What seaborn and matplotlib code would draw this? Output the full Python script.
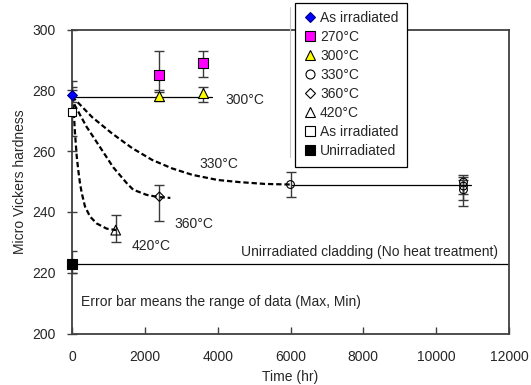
import matplotlib
matplotlib.use("Agg")
import matplotlib.pyplot as plt
import seaborn as sns
import numpy as np
from matplotlib.lines import Line2D

# ---------------- data ----------------
# As irradiated (blue diamond)
t_asirr = [0]
hv_asirr = [278.5]
max_asirr = [281]
min_asirr = [276]

# As irradiated (open square)
t_asirr2 = [0]
hv_asirr2 = [273]
max_asirr2 = [283]
min_asirr2 = [265]

# Unirradiated (black square)
t_unirr = [0]
hv_unirr = [223]
max_unirr = [227]
min_unirr = [220]

# 270 C
t_270 = [2400, 3600]
hv_270 = [285, 289]
max_270 = [293, 293]
min_270 = [280, 284.5]

# 300 C
t_300 = [2400, 3600]
hv_300 = [278, 279]
max_300 = [279.5, 281]
min_300 = [276.5, 276]

# 330 C
t_330 = [6000, 10750, 10750, 10750]
hv_330 = [249, 249.8, 248.5, 247.3]
max_330 = [253, 252, 251.4, 250.5]
min_330 = [245, 246, 243.8, 242]

# 360 C
t_360 = [2400]
hv_360 = [245]
max_360 = [249]
min_360 = [237]

# 420 C
t_420 = [1200]
hv_420 = [234]
max_420 = [239]
min_420 = [230]

# Solid reference lines
line300_t = [0, 3850]
line300_hv = [277.7, 277.7]
line330_t = [6000, 10950]
line330_hv = [249, 249]
lineun_t = [0, 12000]
lineun_hv = [223, 223]

# Dashed trend curves
curve330_t = [0, 550, 1100, 1650, 2200, 2750, 3300, 4000, 4600, 5300, 6000]
curve330_hv = [278, 271.2, 265.8, 261, 257.1, 254.3, 252.2, 250.5, 249.8, 249.2, 249]
curve360_t = [0, 80, 400, 770, 1130, 1500, 1680, 2050, 2360, 2700]
curve360_hv = [278, 275, 268, 261.3, 254.7, 249.5, 247.3, 245.6, 244.9, 244.6]
curve420_t = [0, 36, 82, 128, 173, 219, 266, 356, 493, 677, 951, 1225, 1300]
curve420_hv = [278, 275.5, 266, 258.5, 253.6, 249.5, 246.3, 241.8, 238.5, 236.2, 234.5, 234, 234]

# Axis ticks
xticks = [0, 2000, 4000, 6000, 8000, 10000, 12000]
yticks = [200, 220, 240, 260, 280, 300]

# ---------------- style ----------------
sns.set_style("ticks")
plt.rcParams['font.family'] = ['Liberation Sans', 'DejaVu Sans']

fig = plt.figure(figsize=(5.31, 3.85), dpi=100)
ax = fig.add_axes([72 / 531, 1 - 333.5 / 385, (509 - 72) / 531, (333.5 - 29.5) / 385])

ecol = '#3a3a3a'

def ebar(t, hv, mx, mn):
    hv = np.asarray(hv, float)
    yerr = [hv - np.asarray(mn, float), np.asarray(mx, float) - hv]
    ax.errorbar(t, hv, yerr=yerr, fmt='none', ecolor=ecol, elinewidth=1.0,
                capsize=3.3, capthick=1.0, zorder=3)

# lines
for tt, hh in [(line300_t, line300_hv), (line330_t, line330_hv), (lineun_t, lineun_hv)]:
    sns.lineplot(x=tt, y=hh, ax=ax, color='black', lw=0.9, estimator=None, sort=False, zorder=2)
for tt, hh in [(curve330_t, curve330_hv), (curve360_t, curve360_hv), (curve420_t, curve420_hv)]:
    sns.lineplot(x=tt, y=hh, ax=ax, color='black', lw=1.6, linestyle=(0, (2.4, 1.3)),
                 estimator=None, sort=False, zorder=2)

# error bars
ebar(t_asirr2, hv_asirr2, max_asirr2, min_asirr2)
ebar(t_asirr, hv_asirr, max_asirr, min_asirr)
ebar(t_unirr, hv_unirr, max_unirr, min_unirr)
ebar(t_270, hv_270, max_270, min_270)
ebar(t_300, hv_300, max_300, min_300)
ebar(t_330, hv_330, max_330, min_330)
ebar(t_360, hv_360, max_360, min_360)
ebar(t_420, hv_420, max_420, min_420)

# markers
def pts(t, hv, marker, ms, fc, ec='black', lw=0.8):
    sns.scatterplot(x=t, y=hv, ax=ax, marker=marker, s=ms ** 2, color=fc,
                    edgecolor=ec, linewidth=lw, zorder=5, legend=False, clip_on=False)

pts(t_asirr2, hv_asirr2, 's', 5.5, 'white')
pts(t_270, hv_270, 's', 6.6, '#FF00FF')
pts(t_300, hv_300, '^', 7.2, '#FFFF00')
pts(t_330, hv_330, 'o', 5.6, 'none')
pts(t_360, hv_360, 'D', 4.8, 'none')
pts(t_420, hv_420, '^', 7.0, 'none')
pts(t_unirr, hv_unirr, 's', 6.6, 'black')
pts(t_asirr, hv_asirr, 'D', 5.0, '#0000FF', ec='#000080')

# annotations
fs = 10
ax.text(4210, 276.9, '300°C', fontsize=fs, va='center', ha='left')
ax.text(3500, 255.8, '330°C', fontsize=fs, va='center', ha='left')
ax.text(2820, 236.1, '360°C', fontsize=fs, va='center', ha='left')
ax.text(1630, 228.7, '420°C', fontsize=fs, va='center', ha='left')
ax.text(4650, 226.7, 'Unirradiated cladding (No heat treatment)', fontsize=fs, va='center', ha='left')
ax.text(240, 210.3, 'Error bar means the range of data (Max, Min)', fontsize=fs, va='center', ha='left')

# axes
ax.set_xlim(0, 12000)
ax.set_ylim(200, 300)
ax.set_xticks(xticks)
ax.set_yticks(yticks)
ax.tick_params(axis='x', direction='in', length=5, width=1, pad=12, labelsize=fs, color='#404040')
ax.tick_params(axis='y', direction='inout', length=7, width=1, pad=8, labelsize=fs, color='#404040')
ax.set_xlabel('Time (hr)', fontsize=fs, labelpad=4.5)
ax.set_ylabel('Micro Vickers hardness', fontsize=fs, labelpad=4)
for s in ax.spines.values():
    s.set_color('#404040')
    s.set_linewidth(1.3)

# legend
handles = [
    Line2D([], [], ls='none', marker='D', ms=5.3, mfc='#0000FF', mec='#000080', mew=0.8),
    Line2D([], [], ls='none', marker='s', ms=6.5, mfc='#FF00FF', mec='black', mew=0.8),
    Line2D([], [], ls='none', marker='^', ms=7.5, mfc='#FFFF00', mec='black', mew=0.8),
    Line2D([], [], ls='none', marker='o', ms=6.5, mfc='white', mec='black', mew=0.8),
    Line2D([], [], ls='none', marker='D', ms=5.3, mfc='white', mec='black', mew=0.8),
    Line2D([], [], ls='none', marker='^', ms=7.5, mfc='white', mec='black', mew=0.8),
    Line2D([], [], ls='none', marker='s', ms=6.5, mfc='white', mec='black', mew=0.8),
    Line2D([], [], ls='none', marker='s', ms=6.5, mfc='black', mec='black', mew=0.8),
]
labels = ['As irradiated', '270°C', '300°C', '330°C', '360°C', '420°C', 'As irradiated', 'Unirradiated']
leg = fig.legend(handles, labels, loc='upper left', bbox_to_anchor=(295 / 531, 1 - 3 / 385),
                 bbox_transform=fig.transFigure, frameon=True, fancybox=False,
                 edgecolor='black', framealpha=1, fontsize=fs, handlelength=0.9,
                 handletextpad=0.3, labelspacing=0.36, borderpad=0.6, borderaxespad=0)
leg.get_frame().set_linewidth(0.9)
leg.set_zorder(10)

# faint shadow line at the legend's left side (as in the reference)
fig.add_artist(Line2D([290 / 531, 290 / 531], [1 - 7 / 385, 1 - 157 / 385],
                      transform=fig.transFigure, color='#c8c8c8', lw=0.8, zorder=9))

fig.savefig('out.png', dpi=100)
